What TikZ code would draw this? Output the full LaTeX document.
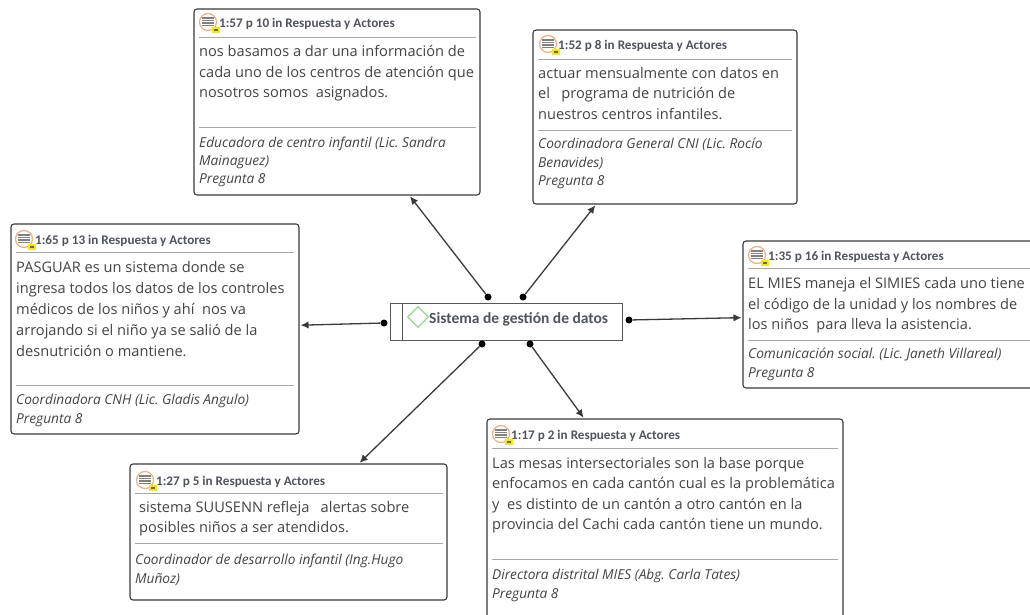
\documentclass[tikz,border=0pt]{standalone}
\usepackage{fontspec}
\setmainfont{Open Sans}
\newfontfamily\titlefont{Carlito}
\usepackage{tikz}
\usetikzlibrary{shapes,arrows.meta}
\definecolor{framec}{HTML}{3A3A3A}
\definecolor{rulec}{HTML}{A8A8A8}
\definecolor{inkc}{HTML}{444444}
\definecolor{titlec}{HTML}{50545C}
\definecolor{memoc}{HTML}{EBB083}
\definecolor{markc}{HTML}{95D890}
\tikzstyle{quote}=[rectangle, draw=framec, line width=1.1pt, rounded corners=3pt, fill=white, inner sep=0pt]
\tikzstyle{qtitle}=[anchor=west, yshift=-1pt, inner sep=0pt, text=titlec, font=\titlefont\fontsize{13.15}{15}\selectfont\bfseries]
\tikzstyle{qbody}=[anchor=north west, inner sep=0pt, align=left, text=inkc, font=\frenchspacing\fontsize{14.6}{20.4}\selectfont]
\tikzstyle{qsource}=[anchor=north west, inner sep=0pt, align=left, text=inkc, font=\frenchspacing\fontsize{13.7}{18.4}\selectfont\itshape]
\tikzstyle{qrule}=[draw=rulec, line width=0.8pt]
\tikzstyle{dot}=[circle, fill=black, inner sep=0pt, minimum size=7pt]
\tikzstyle{link}=[-{Latex[length=8pt,width=7.5pt]}, draw=framec, line width=1.3pt, shorten >=1pt]
\tikzset{memo/.pic={
  \draw[memoc, line width=1.2pt, fill=white] (0,0) circle (8.5);
  \foreach \yy in {-4,-1.5,1,3.5}{\draw[gray, line width=1.1pt] (-6,\yy) -- (6,\yy);}
  \fill[yellow!95!black] (4,5) rectangle (12,11);
  \fill[black!60] (6,7) rectangle (10,9);
}}
\begin{document}
\begin{tikzpicture}[x=1pt,y=-1pt]
\clip (0,0) rectangle (1030,615);
\node [quote, minimum width=286pt, minimum height=186pt] (boxA) at (337,102) {};
\node [quote, minimum width=264pt, minimum height=174pt] (boxB) at (665,117) {};
\node [quote, minimum width=288pt, minimum height=210pt] (boxC) at (155,329) {};
\node [quote, minimum width=302pt, minimum height=147pt] (boxD) at (894,314.5) {};
\node [quote, minimum width=356pt, minimum height=222pt] (boxE) at (665,530) {};
\node [quote, minimum width=317pt, minimum height=136pt] (boxF) at (288.5,532) {};
\node [rectangle, draw=framec!85, line width=1pt, minimum width=232pt, minimum height=37pt, inner sep=0pt] (code) at (506,321.5) {};
\draw [draw=framec!85, line width=1pt] (402,303) -- (402,340);
\node [diamond, draw=markc, line width=1.3pt, minimum width=21pt, minimum height=21pt, inner sep=0pt] (mark) at (418,317) {};
\node [qtitle, font=\titlefont\fontsize{15.5}{15}\selectfont\bfseries] (codename) at (429,318) {Sistema de gestión de datos};
\node [dot] (dotA) at (488,297) {};
\node [dot] (dotB) at (523,297) {};
\node [dot] (dotC) at (384,323) {};
\node [dot] (dotD) at (629,320) {};
\node [dot] (dotE) at (530,344) {};
\node [dot] (dotF) at (482,344) {};
\draw [link] (dotA) -- (boxA);
\draw [link] (dotB) -- (boxB);
\draw [link] (dotC) -- (boxC);
\draw [link] (dotD) -- (boxD);
\draw [link] (dotE) -- (boxE);
\draw [link] (dotF) -- (boxF);
\pic at (208,22) {memo};
\node [qtitle] (titleA) at (219,23) {1:57 p 10 in Respuesta y Actores};
\draw [qrule] (199,37) -- (476,37);
\node [qbody] (bodyA) at (199,45.5) {nos basamos a dar una información de\\cada uno de los centros de atención que\\nosotros somos\ \ asignados.};
\draw [qrule] (199,127) -- (476,127);
\node [qsource] (sourceA) at (199,136.5) {Educadora de centro infantil (Lic. Sandra\\Mainaguez)\\Pregunta 8};
\pic at (548,44) {memo};
\node [qtitle] (titleB) at (558,45) {1:52 p 8 in Respuesta y Actores};
\draw [qrule] (538,59) -- (792,59);
\node [qbody] (bodyB) at (538,67) {actuar mensualmente con datos en\\el\ \ \ programa de nutrición de\\nuestros centros infantiles.};
\draw [qrule] (538,130) -- (792,130);
\node [qsource] (sourceB) at (538,138) {Coordinadora General CNI (Lic. Rocío\\Benavides)\\Pregunta 8};
\pic at (24,239) {memo};
\node [qtitle] (titleC) at (35,240) {1:65 p 13 in Respuesta y Actores};
\draw [qrule] (16,252) -- (294,252);
\node [qbody] (bodyC) at (16,261) {PASGUAR es un sistema donde se\\[0.6pt]ingresa todos los datos de los controles\\[0.6pt]médicos de los niños y ahí\ \ nos va\\[0.6pt]arrojando si el niño ya se salió de la\\[0.6pt]desnutrición o mantiene.};
\draw [qrule] (16,385) -- (294,385);
\node [qsource] (sourceC) at (16,394) {Coordinadora CNH (Lic. Gladis Angulo)\\Pregunta 8};
\pic at (757,255) {memo};
\node [qtitle] (titleD) at (768,256) {1:35 p 16 in Respuesta y Actores};
\draw [qrule] (748,268) -- (1030,268);
\node [qbody] (bodyD) at (748,277.5) {EL MIES maneja el SIMIES cada uno tiene\\el código de la unidad y los nombres de\\los niños\ \ para lleva la asistencia.};
\draw [qrule] (748,340) -- (1030,340);
\node [qsource] (sourceD) at (748,348) {Comunicación social. (Lic. Janeth Villareal)\\Pregunta 8};
\pic at (501,434) {memo};
\node [qtitle] (titleE) at (511,435) {1:17 p 2 in Respuesta y Actores};
\draw [qrule] (492,448) -- (838,448);
\node [qbody] (bodyE) at (492,457) {Las mesas intersectoriales son la base porque\\enfocamos en cada cantón cual es la problemática\\y\ \ es distinto de un cantón a otro cantón en la\\provincia del Cachi cada cantón tiene un mundo.};
\draw [qrule] (492,559) -- (838,559);
\node [qsource] (sourceE) at (492,569) {Directora distrital MIES (Abg. Carla Tates)\\Pregunta 8};
\pic at (145,480) {memo};
\node [qtitle] (titleF) at (156,481) {1:27 p 5 in Respuesta y Actores};
\draw [qrule] (135,493) -- (443,493);
\node [qbody] (bodyF) at (139,501) {sistema SUUSENN refleja\ \ \ alertas sobre\\posibles niños a ser atendidos.};
\draw [qrule] (135,543) -- (443,543);
\node [qsource] (sourceF) at (135,554) {Coordinador de desarrollo infantil (Ing.Hugo\\Muñoz)};
\end{tikzpicture}
\end{document}
